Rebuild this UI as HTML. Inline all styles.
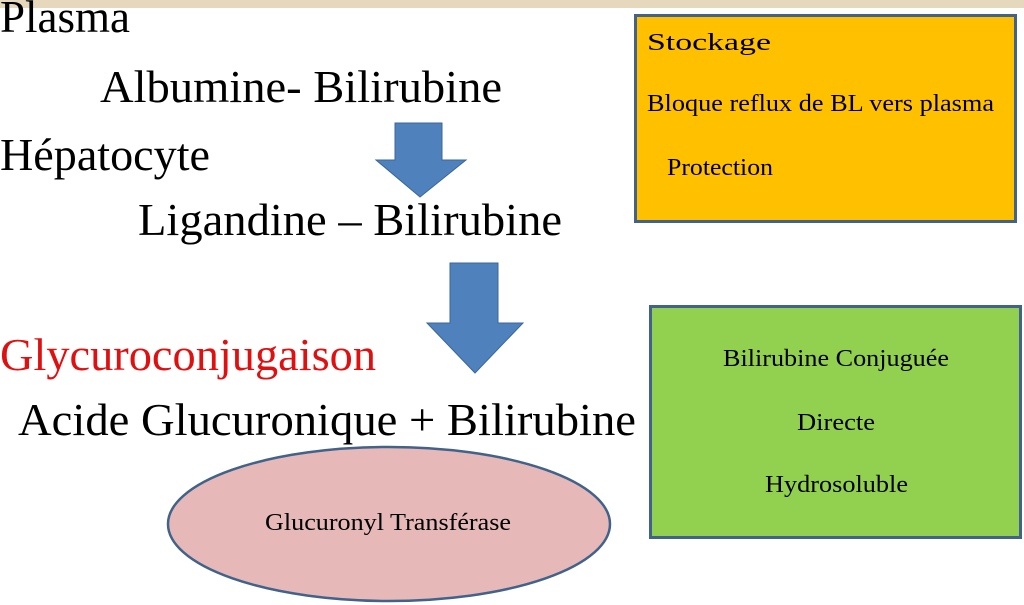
<!DOCTYPE html>
<html><head><meta charset="utf-8"><style>
html,body{margin:0;padding:0;background:#fff;}
svg{display:block;}
text{font-family:"Liberation Serif",serif;}
</style></head><body>
<svg width="1024" height="605" viewBox="0 0 1024 605" xmlns="http://www.w3.org/2000/svg">
<rect x="0" y="0" width="1024" height="605" fill="#fff"/>
<rect x="0" y="0" width="1024" height="8" fill="#e6d8bd"/>
<g font-size="46" fill="#000">
<text x="0" y="32" textLength="130" lengthAdjust="spacingAndGlyphs">Plasma</text>
<text x="100" y="102" textLength="402" lengthAdjust="spacingAndGlyphs">Albumine- Bilirubine</text>
<text x="0" y="170" textLength="210" lengthAdjust="spacingAndGlyphs">Hépatocyte</text>
<text x="138" y="235" textLength="424" lengthAdjust="spacingAndGlyphs">Ligandine – Bilirubine</text>
<text x="0" y="370" textLength="376" lengthAdjust="spacingAndGlyphs" fill="#e01010">Glycuroconjugaison</text>
<text x="18" y="435" textLength="618" lengthAdjust="spacingAndGlyphs">Acide Glucuronique + Bilirubine</text>
</g>
<polygon points="395,123 442,123 442,160 466,160 420,197 376,160 395,160" fill="#4f81bd" stroke="#3a6797" stroke-width="1"/>
<polygon points="450,263 498,263 498,323 523,323 475,373 427,323 450,323" fill="#4f81bd" stroke="#3a6797" stroke-width="1"/>
<rect x="635.5" y="15.5" width="380" height="206" fill="#ffc000" stroke="#41628a" stroke-width="3"/>
<g font-size="24" fill="#000">
<text x="647" y="50" textLength="124" lengthAdjust="spacingAndGlyphs">Stockage</text>
<text x="647" y="111" textLength="347" lengthAdjust="spacingAndGlyphs">Bloque reflux de BL vers plasma</text>
<text x="667" y="175" textLength="106" lengthAdjust="spacingAndGlyphs">Protection</text>
</g>
<rect x="650.5" y="306.5" width="370" height="231" fill="#92d050" stroke="#41628a" stroke-width="3"/>
<g font-size="24" fill="#000">
<text x="723" y="366" textLength="226" lengthAdjust="spacingAndGlyphs">Bilirubine Conjuguée</text>
<text x="797" y="430" textLength="78" lengthAdjust="spacingAndGlyphs">Directe</text>
<text x="765" y="492" textLength="143" lengthAdjust="spacingAndGlyphs">Hydrosoluble</text>
</g>
<ellipse cx="389" cy="524" rx="221" ry="77" fill="#e6b9b8" stroke="#41628a" stroke-width="2.5"/>
<text x="265" y="530" font-size="24" textLength="246" lengthAdjust="spacingAndGlyphs">Glucuronyl Transférase</text>
</svg>
</body></html>
